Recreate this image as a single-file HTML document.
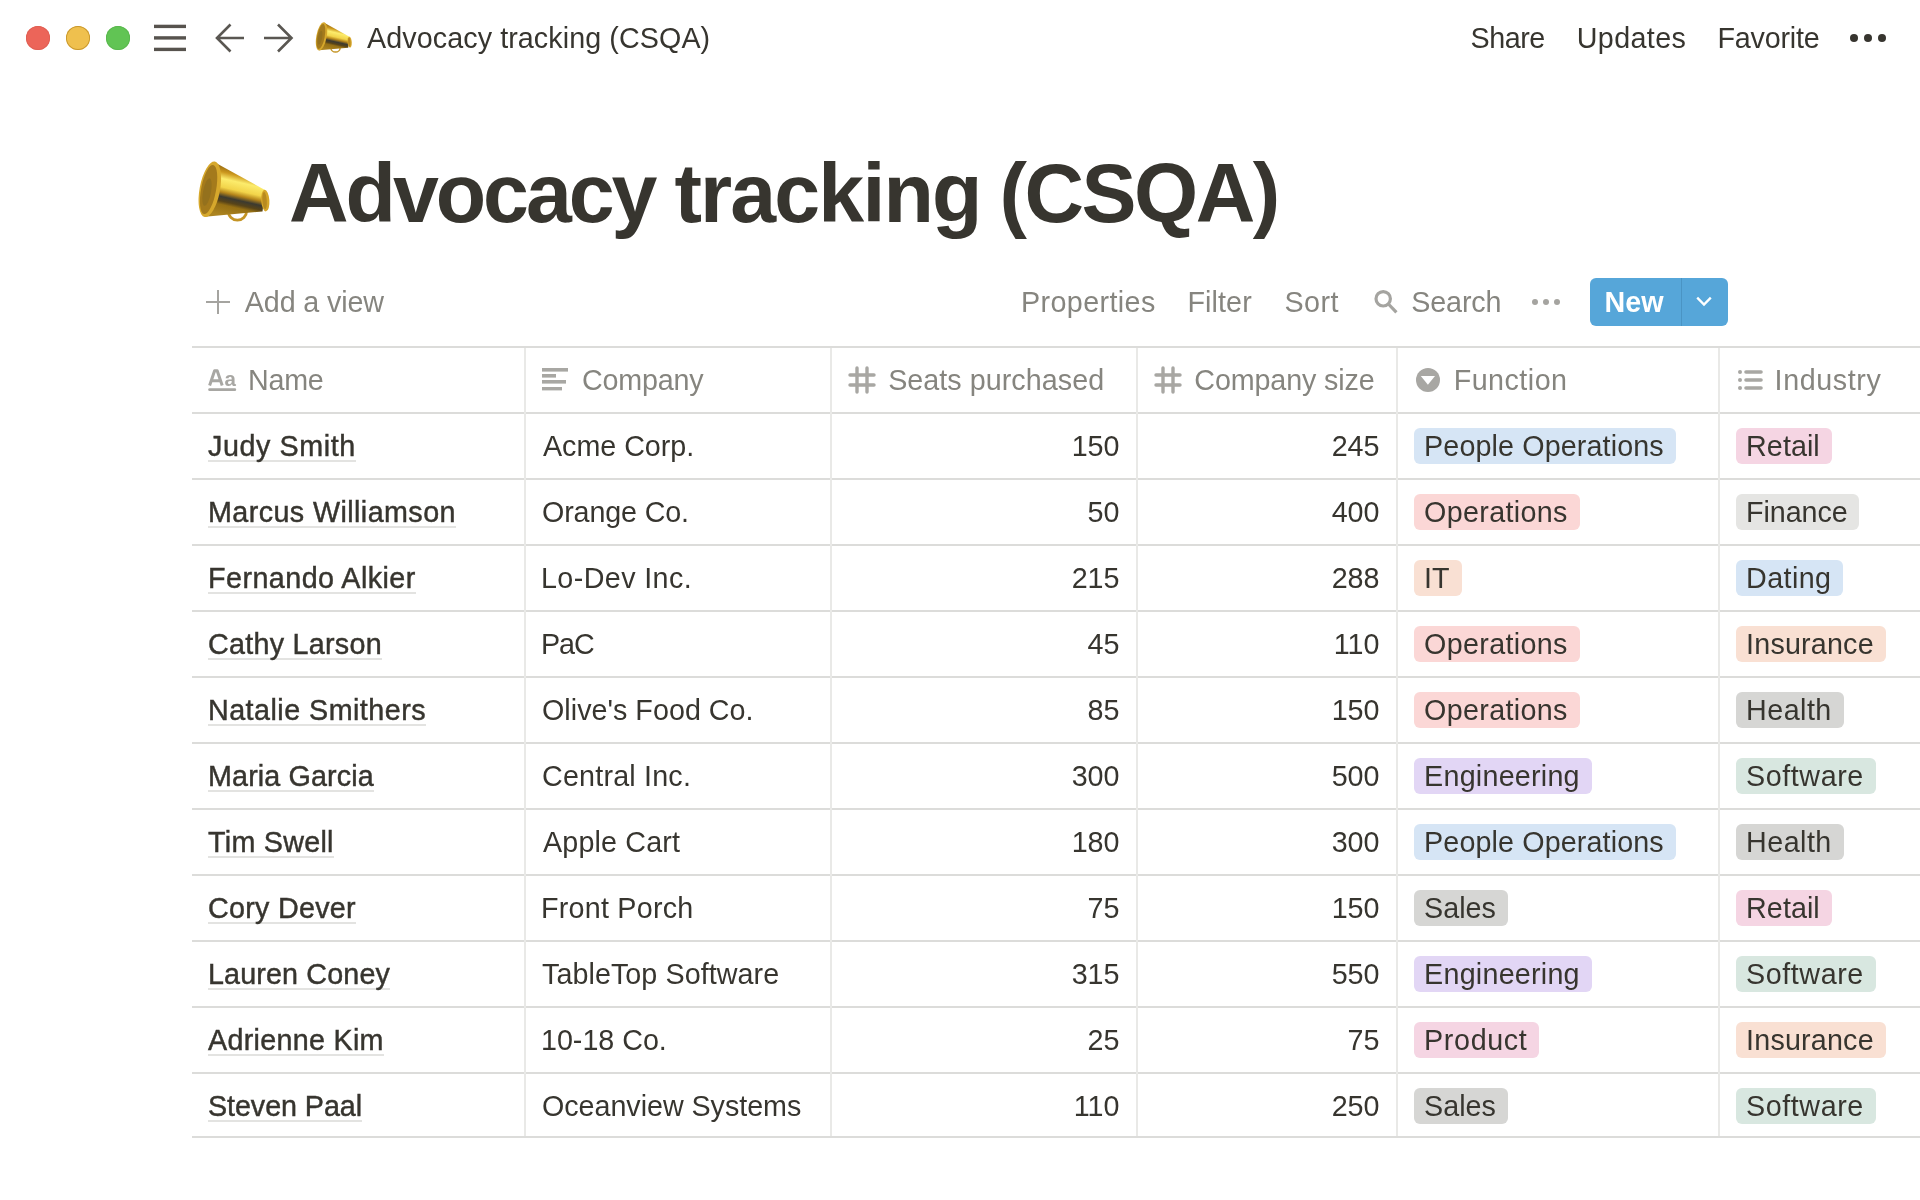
<!DOCTYPE html><html><head><meta charset="utf-8"><style>
*{margin:0;padding:0;box-sizing:border-box}
html,body{width:1920px;height:1200px;overflow:hidden;background:#fff}
body{font-family:"Liberation Sans",sans-serif;color:#37352f;position:relative}
.a{position:absolute;white-space:nowrap;line-height:28px;font-size:28.7px}
.g{color:#86857f}
.hl{position:absolute;left:192px;width:1728px;height:2px;background:#dcdcda}
.vl{position:absolute;width:2px;background:#e9e9e7}
.tag{position:absolute;height:36px;border-radius:6px;padding:0 11.9px 0 10.1px;line-height:36px;font-size:28.7px;white-space:nowrap}
.nm{position:relative;-webkit-text-stroke:0.45px #37352f}
.nm::after{content:"";position:absolute;left:0;right:0;top:30.3px;height:2px;background:#e3e3e1;z-index:-1}
</style></head><body><div id="w" style="position:absolute;left:0;top:0;width:1920px;height:1200px;will-change:transform">
<div style="position:absolute;left:26px;top:26px;width:24px;height:24px;border-radius:50%;background:#ec6559;box-shadow:inset 0 0 0 0.9px #e06054"></div>
<div style="position:absolute;left:66px;top:26px;width:24px;height:24px;border-radius:50%;background:#efc04e;box-shadow:inset 0 0 0 0.9px #c9982e"></div>
<div style="position:absolute;left:106px;top:26px;width:24px;height:24px;border-radius:50%;background:#61c454;box-shadow:inset 0 0 0 0.9px #5ab84e"></div>
<svg style="position:absolute;left:150px;top:20px" width="40" height="36" viewBox="0 0 40 36"><g stroke="#57534e" stroke-width="3.4"><line x1="4" y1="6.4" x2="36" y2="6.4"/><line x1="4" y1="17.9" x2="36" y2="17.9"/><line x1="4" y1="29.4" x2="36" y2="29.4"/></g></svg>
<svg style="position:absolute;left:210px;top:18px" width="90" height="40" viewBox="0 0 90 40"><g stroke="#5a5752" stroke-width="2.6" fill="none" stroke-linecap="butt"><path d="M7 20 H34 M20.5 6.5 L7 20 L20.5 33.5"/><path d="M54 20 H81.5 M68 6.5 L81.5 20 L68 33.5"/></g></svg>
<svg viewBox="195 155 80 72" width="40.6" height="36.5" style="position:absolute;left:314px;top:19px">
<defs>
<linearGradient id="gbs" gradientUnits="userSpaceOnUse" x1="236" y1="168" x2="225" y2="216">
<stop offset="0" stop-color="#946810"/><stop offset="0.14" stop-color="#cc981e"/><stop offset="0.27" stop-color="#fcec6c"/><stop offset="0.44" stop-color="#f2d44a"/><stop offset="0.54" stop-color="#b4841a"/><stop offset="0.63" stop-color="#3c3a30"/><stop offset="0.72" stop-color="#584418"/><stop offset="0.79" stop-color="#967014"/><stop offset="1" stop-color="#ac8420"/>
</linearGradient>
</defs>
<path d="M228.2 211 A9.2 9.2 0 0 0 246.6 211" stroke="#c49424" stroke-width="2.8" fill="none"/>
<path d="M215 162.5 L265 190 L262.5 211.5 L205 216.8 Z" fill="url(#gbs)"/>
<ellipse cx="265.3" cy="200.6" rx="4.1" ry="10.8" transform="rotate(-4 265.3 200.6)" fill="#d6a62a"/>
<ellipse cx="264.6" cy="200.6" rx="2.2" ry="8.5" transform="rotate(-4 264.6 200.6)" fill="#b88a20"/>
<ellipse cx="209.8" cy="189.3" rx="10.2" ry="28.2" transform="rotate(10.5 209.8 189.3)" fill="#d6a82c"/>
<ellipse cx="208.6" cy="189.5" rx="7.5" ry="25" transform="rotate(10.5 208.6 189.5)" fill="#a47a1c"/>
<ellipse cx="207" cy="192" rx="4" ry="14" transform="rotate(10.5 207 192)" fill="#8a6a1e" opacity="0.6"/>
</svg>
<div class="a" style="left:367.0px;top:24.1px;letter-spacing:0.087px;">Advocacy tracking (CSQA)</div>
<div class="a" style="left:1470.5px;top:24.1px;letter-spacing:-0.438px;">Share</div>
<div class="a" style="left:1576.75px;top:24.1px;letter-spacing:0.375px;">Updates</div>
<div class="a" style="left:1717.5px;top:24.1px;letter-spacing:-0.214px;">Favorite</div>
<div style="position:absolute;left:1849.7px;top:33.7px;width:8.6px;height:8.6px;border-radius:50%;background:#37352f"></div>
<div style="position:absolute;left:1863.7px;top:33.7px;width:8.6px;height:8.6px;border-radius:50%;background:#37352f"></div>
<div style="position:absolute;left:1877.7px;top:33.7px;width:8.6px;height:8.6px;border-radius:50%;background:#37352f"></div>
<svg viewBox="195 155 80 72" width="80" height="72" style="position:absolute;left:195px;top:155px">
<defs>
<linearGradient id="gbb" gradientUnits="userSpaceOnUse" x1="236" y1="168" x2="225" y2="216">
<stop offset="0" stop-color="#946810"/><stop offset="0.14" stop-color="#cc981e"/><stop offset="0.27" stop-color="#fcec6c"/><stop offset="0.44" stop-color="#f2d44a"/><stop offset="0.54" stop-color="#b4841a"/><stop offset="0.63" stop-color="#3c3a30"/><stop offset="0.72" stop-color="#584418"/><stop offset="0.79" stop-color="#967014"/><stop offset="1" stop-color="#ac8420"/>
</linearGradient>
</defs>
<path d="M228.2 211 A9.2 9.2 0 0 0 246.6 211" stroke="#c49424" stroke-width="2.8" fill="none"/>
<path d="M215 162.5 L265 190 L262.5 211.5 L205 216.8 Z" fill="url(#gbb)"/>
<ellipse cx="265.3" cy="200.6" rx="4.1" ry="10.8" transform="rotate(-4 265.3 200.6)" fill="#d6a62a"/>
<ellipse cx="264.6" cy="200.6" rx="2.2" ry="8.5" transform="rotate(-4 264.6 200.6)" fill="#b88a20"/>
<ellipse cx="209.8" cy="189.3" rx="10.2" ry="28.2" transform="rotate(10.5 209.8 189.3)" fill="#d6a82c"/>
<ellipse cx="208.6" cy="189.5" rx="7.5" ry="25" transform="rotate(10.5 208.6 189.5)" fill="#a47a1c"/>
<ellipse cx="207" cy="192" rx="4" ry="14" transform="rotate(10.5 207 192)" fill="#8a6a1e" opacity="0.6"/>
</svg>
<div style="position:absolute;left:289px;top:153px;font-size:82.5px;line-height:80px;font-weight:700;white-space:nowrap;letter-spacing:-3.04px">Advocacy</div>
<div style="position:absolute;left:674.4px;top:153px;font-size:82.5px;line-height:80px;font-weight:700;white-space:nowrap;letter-spacing:-1.84px">tracking</div>
<div style="position:absolute;left:999.5px;top:153px;font-size:82.5px;line-height:80px;font-weight:700;white-space:nowrap;letter-spacing:-2.5px">(CSQA)</div>
<svg style="position:absolute;left:204px;top:288px" width="28" height="28" viewBox="0 0 28 28"><g stroke="#a5a4a0" stroke-width="2"><line x1="14" y1="2" x2="14" y2="26"/><line x1="2" y1="14" x2="26" y2="14"/></g></svg>
<div class="a g" style="left:244.8px;top:287.8px;letter-spacing:-0.117px;">Add a view</div>
<div class="a g" style="left:1021.0px;top:287.8px;letter-spacing:0.389px;">Properties</div>
<div class="a g" style="left:1187.4px;top:287.8px;letter-spacing:0.12px;">Filter</div>
<div class="a g" style="left:1284.4px;top:287.8px;letter-spacing:0.467px;">Sort</div>
<svg style="position:absolute;left:1370px;top:286px" width="32" height="32" viewBox="0 0 32 32"><g stroke="#a5a4a0" stroke-width="3.2" fill="none"><circle cx="13.2" cy="12.8" r="7.2"/><line x1="18.4" y1="18" x2="26.4" y2="26.4"/></g></svg>
<div class="a g" style="left:1411.3px;top:287.8px;letter-spacing:-0.14px;">Search</div>
<div style="position:absolute;left:1531.7px;top:298.7px;width:6.6px;height:6.6px;border-radius:50%;background:#a5a4a0"></div>
<div style="position:absolute;left:1542.7px;top:298.7px;width:6.6px;height:6.6px;border-radius:50%;background:#a5a4a0"></div>
<div style="position:absolute;left:1553.7px;top:298.7px;width:6.6px;height:6.6px;border-radius:50%;background:#a5a4a0"></div>
<div style="position:absolute;left:1590px;top:278px;width:138px;height:48px;border-radius:6px;background:#56a6d9"></div>
<div style="position:absolute;left:1680.5px;top:278px;width:1.5px;height:48px;background:#4a94c4"></div>
<div class="a" style="left:1604.6px;top:288px;letter-spacing:0.0px;color:#fff;font-weight:700">New</div>
<svg style="position:absolute;left:1692px;top:292px" width="24" height="20" viewBox="0 0 24 20"><path d="M5.2 5.6 L12 12.6 L18.8 5.6" stroke="#fff" stroke-width="2.3" fill="none"/></svg>
<div class="hl" style="top:346px"></div>
<div class="hl" style="top:412px"></div>
<div class="hl" style="top:478px"></div>
<div class="hl" style="top:544px"></div>
<div class="hl" style="top:610px"></div>
<div class="hl" style="top:676px"></div>
<div class="hl" style="top:742px"></div>
<div class="hl" style="top:808px"></div>
<div class="hl" style="top:874px"></div>
<div class="hl" style="top:940px"></div>
<div class="hl" style="top:1006px"></div>
<div class="hl" style="top:1072px"></div>
<div class="hl" style="top:1136px"></div>
<div class="vl" style="left:524px;top:348px;height:788px"></div>
<div class="vl" style="left:830px;top:348px;height:788px"></div>
<div class="vl" style="left:1136px;top:348px;height:788px"></div>
<div class="vl" style="left:1396px;top:348px;height:788px"></div>
<div class="vl" style="left:1718px;top:348px;height:788px"></div>
<svg style="position:absolute;left:206px;top:366px" width="34" height="28" viewBox="0 0 34 28"><path d="M3.6 19.6 L8.6 4.8 L11.2 4.8 L16.2 19.6 M5.6 14.8 H14.2" stroke="#a8a7a3" stroke-width="3" fill="none" stroke-linejoin="round"/><text x="18.6" y="19.8" font-family="Liberation Sans" font-weight="700" font-size="20.5" fill="#a8a7a3">a</text><rect x="2.2" y="22.3" width="28" height="2.8" rx="1.4" fill="#a8a7a3"/></svg>
<div class="a g" style="left:247.9px;top:365.8px;letter-spacing:-0.2px;">Name</div>
<svg style="position:absolute;left:542px;top:368px" width="26" height="23" viewBox="0 0 26 23"><g fill="#a8a7a3"><rect x="0" y="0" width="26" height="3.6"/><rect x="0" y="6" width="14" height="3.6"/><rect x="0" y="12" width="24" height="3.6"/><rect x="0" y="19" width="20" height="3.4"/></g></svg>
<div class="a g" style="left:581.9px;top:365.8px;letter-spacing:-0.192px;">Company</div>
<svg style="position:absolute;left:848px;top:366px" width="28" height="28" viewBox="0 0 28 28"><g stroke="#a8a7a3" stroke-width="3.4" stroke-linecap="round"><line x1="9" y1="2" x2="9" y2="26"/><line x1="19" y1="2" x2="19" y2="26"/><line x1="2" y1="9" x2="26" y2="9"/><line x1="2" y1="19" x2="26" y2="19"/></g></svg>
<div class="a g" style="left:888.2px;top:365.8px;letter-spacing:0.043px;">Seats purchased</div>
<svg style="position:absolute;left:1154px;top:366px" width="28" height="28" viewBox="0 0 28 28"><g stroke="#a8a7a3" stroke-width="3.4" stroke-linecap="round"><line x1="9" y1="2" x2="9" y2="26"/><line x1="19" y1="2" x2="19" y2="26"/><line x1="2" y1="9" x2="26" y2="9"/><line x1="2" y1="19" x2="26" y2="19"/></g></svg>
<div class="a g" style="left:1194.3px;top:365.8px;letter-spacing:-0.118px;">Company size</div>
<svg style="position:absolute;left:1416px;top:368px" width="24" height="24" viewBox="0 0 24 24"><circle cx="12" cy="12" r="12" fill="#a8a7a3"/><path d="M4.8 8 H19 L11.9 16.8 Z" fill="#fff"/></svg>
<div class="a g" style="left:1453.7px;top:365.8px;letter-spacing:0.471px;">Function</div>
<svg style="position:absolute;left:1737px;top:369px" width="28" height="22" viewBox="0 0 28 22"><g fill="#a8a7a3"><circle cx="3" cy="3" r="2"/><circle cx="3" cy="11" r="2"/><circle cx="3" cy="19" r="2"/></g><g stroke="#a8a7a3" stroke-width="3.6" stroke-linecap="round"><line x1="9" y1="3" x2="24" y2="3"/><line x1="9" y1="11" x2="24" y2="11"/><line x1="9" y1="19" x2="24" y2="19"/></g></svg>
<div class="a g" style="left:1774.6px;top:365.8px;letter-spacing:0.586px;">Industry</div>
<div class="a" style="left:208px;top:431.7px"><span class="nm" style="letter-spacing:0.599px">Judy Smith</span></div>
<div class="a" style="left:543.0px;top:431.7px;letter-spacing:-0.033px;">Acme Corp.</div>
<div class="a" style="right:800.5px;top:431.7px;letter-spacing:0px">150</div>
<div class="a" style="right:540.5px;top:431.7px;letter-spacing:0px">245</div>
<div class="tag" style="left:1414px;top:428px;background:#d6e5f5;letter-spacing:0.122px">People Operations</div>
<div class="tag" style="left:1736px;top:428px;background:#f5d5e3;letter-spacing:0.059px">Retail</div>
<div class="a" style="left:208px;top:497.70000000000005px"><span class="nm" style="letter-spacing:0.423px">Marcus Williamson</span></div>
<div class="a" style="left:542.0px;top:497.70000000000005px;letter-spacing:-0.144px;">Orange Co.</div>
<div class="a" style="right:800.5px;top:497.70000000000005px;letter-spacing:0px">50</div>
<div class="a" style="right:540.5px;top:497.70000000000005px;letter-spacing:0px">400</div>
<div class="tag" style="left:1414px;top:494px;background:#fbd7d6;letter-spacing:0.337px">Operations</div>
<div class="tag" style="left:1736px;top:494px;background:#e5e5e3;letter-spacing:-0.08px">Finance</div>
<div class="a" style="left:208px;top:563.7px"><span class="nm" style="letter-spacing:0.458px">Fernando Alkier</span></div>
<div class="a" style="left:541.0px;top:563.7px;letter-spacing:0.4px;">Lo-Dev Inc.</div>
<div class="a" style="right:800.5px;top:563.7px;letter-spacing:0px">215</div>
<div class="a" style="right:540.5px;top:563.7px;letter-spacing:0px">288</div>
<div class="tag" style="left:1414px;top:560px;background:#f9e0d3;letter-spacing:0.05px">IT</div>
<div class="tag" style="left:1736px;top:560px;background:#d6e5f5;letter-spacing:0.41px">Dating</div>
<div class="a" style="left:208px;top:629.7px"><span class="nm" style="letter-spacing:0.272px">Cathy Larson</span></div>
<div class="a" style="left:541.0px;top:629.7px;letter-spacing:-1.1px;">PaC</div>
<div class="a" style="right:800.5px;top:629.7px;letter-spacing:0px">45</div>
<div class="a" style="right:540.5px;top:629.7px;letter-spacing:0px">110</div>
<div class="tag" style="left:1414px;top:626px;background:#fbd7d6;letter-spacing:0.337px">Operations</div>
<div class="tag" style="left:1736px;top:626px;background:#f9e0d3;letter-spacing:0.191px">Insurance</div>
<div class="a" style="left:208px;top:695.7px"><span class="nm" style="letter-spacing:0.472px">Natalie Smithers</span></div>
<div class="a" style="left:542.0px;top:695.7px;letter-spacing:0.027px;">Olive's Food Co.</div>
<div class="a" style="right:800.5px;top:695.7px;letter-spacing:0px">85</div>
<div class="a" style="right:540.5px;top:695.7px;letter-spacing:0px">150</div>
<div class="tag" style="left:1414px;top:692px;background:#fbd7d6;letter-spacing:0.337px">Operations</div>
<div class="tag" style="left:1736px;top:692px;background:#d6d6d4;letter-spacing:0.46px">Health</div>
<div class="a" style="left:208px;top:761.7px"><span class="nm" style="letter-spacing:0.141px">Maria Garcia</span></div>
<div class="a" style="left:542.0px;top:761.7px;letter-spacing:0.2px;">Central Inc.</div>
<div class="a" style="right:800.5px;top:761.7px;letter-spacing:0px">300</div>
<div class="a" style="right:540.5px;top:761.7px;letter-spacing:0px">500</div>
<div class="tag" style="left:1414px;top:758px;background:#e2d6f5;letter-spacing:0.234px">Engineering</div>
<div class="tag" style="left:1736px;top:758px;background:#d8e7e0;letter-spacing:0.56px">Software</div>
<div class="a" style="left:208px;top:827.7px"><span class="nm" style="letter-spacing:0.276px">Tim Swell</span></div>
<div class="a" style="left:543.0px;top:827.7px;letter-spacing:0.167px;">Apple Cart</div>
<div class="a" style="right:800.5px;top:827.7px;letter-spacing:0px">180</div>
<div class="a" style="right:540.5px;top:827.7px;letter-spacing:0px">300</div>
<div class="tag" style="left:1414px;top:824px;background:#d6e5f5;letter-spacing:0.122px">People Operations</div>
<div class="tag" style="left:1736px;top:824px;background:#d6d6d4;letter-spacing:0.46px">Health</div>
<div class="a" style="left:208px;top:893.7px"><span class="nm" style="letter-spacing:0.284px">Cory Dever</span></div>
<div class="a" style="left:541.0px;top:893.7px;letter-spacing:0.24px;">Front Porch</div>
<div class="a" style="right:800.5px;top:893.7px;letter-spacing:0px">75</div>
<div class="a" style="right:540.5px;top:893.7px;letter-spacing:0px">150</div>
<div class="tag" style="left:1414px;top:890px;background:#d6d6d4;letter-spacing:-0.013px">Sales</div>
<div class="tag" style="left:1736px;top:890px;background:#f5d5e3;letter-spacing:0.059px">Retail</div>
<div class="a" style="left:208px;top:959.7px"><span class="nm" style="letter-spacing:0.147px">Lauren Coney</span></div>
<div class="a" style="left:542.0px;top:959.7px;letter-spacing:0.069px;">TableTop Software</div>
<div class="a" style="right:800.5px;top:959.7px;letter-spacing:0px">315</div>
<div class="a" style="right:540.5px;top:959.7px;letter-spacing:0px">550</div>
<div class="tag" style="left:1414px;top:956px;background:#e2d6f5;letter-spacing:0.234px">Engineering</div>
<div class="tag" style="left:1736px;top:956px;background:#d8e7e0;letter-spacing:0.56px">Software</div>
<div class="a" style="left:208px;top:1025.7px"><span class="nm" style="letter-spacing:0.298px">Adrienne Kim</span></div>
<div class="a" style="left:541.0px;top:1025.7px;letter-spacing:-0.025px;">10-18 Co.</div>
<div class="a" style="right:800.5px;top:1025.7px;letter-spacing:0px">25</div>
<div class="a" style="right:540.5px;top:1025.7px;letter-spacing:0px">75</div>
<div class="tag" style="left:1414px;top:1022px;background:#f5d5e3;letter-spacing:0.632px">Product</div>
<div class="tag" style="left:1736px;top:1022px;background:#f9e0d3;letter-spacing:0.191px">Insurance</div>
<div class="a" style="left:208px;top:1091.7px"><span class="nm" style="letter-spacing:-0.064px">Steven Paal</span></div>
<div class="a" style="left:542.0px;top:1091.7px;letter-spacing:-0.038px;">Oceanview Systems</div>
<div class="a" style="right:800.5px;top:1091.7px;letter-spacing:0px">110</div>
<div class="a" style="right:540.5px;top:1091.7px;letter-spacing:0px">250</div>
<div class="tag" style="left:1414px;top:1088px;background:#d6d6d4;letter-spacing:-0.013px">Sales</div>
<div class="tag" style="left:1736px;top:1088px;background:#d8e7e0;letter-spacing:0.56px">Software</div>
</div></body></html>
